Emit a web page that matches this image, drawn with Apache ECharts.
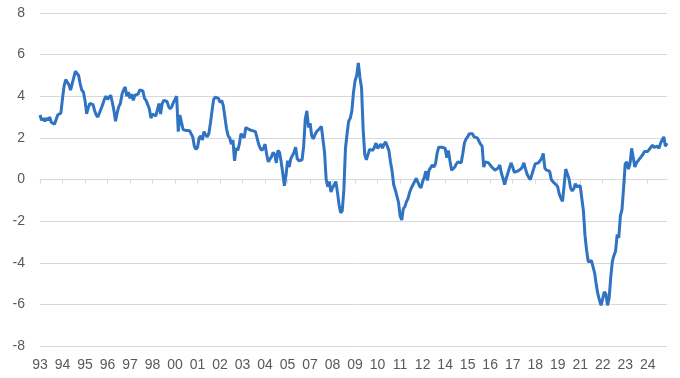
<!DOCTYPE html>
<html>
<head>
<meta charset="utf-8">
<script src="https://cdn.jsdelivr.net/npm/echarts@6/dist/echarts.min.js"></script>
<style>
html,body{margin:0;padding:0;background:#fff;}
#chart{width:680px;height:378px;}
</style>
</head>
<body>
<div id="chart"></div>
<script>
// Monthly values, Jan 1993 onwards (one array per year)
const y1993 = [3.1, 2.85, 2.95, 2.8, 2.95, 2.85, 3.0, 2.75, 2.7, 2.65, 2.65, 3.1];
const y1994 = [3.15, 3.2, 3.9, 4.5, 4.8, 4.85, 4.55, 4.3, 4.35, 4.9, 5.2, 5.2];
const y1995 = [5.0, 4.6, 4.3, 4.2, 3.8, 3.15, 3.45, 3.65, 3.7, 3.6, 3.3, 3.1];
const y1996 = [3.0, 2.95, 3.4, 3.6, 3.85, 4.0, 3.85, 3.9, 4.05, 3.7, 3.3, 2.8];
const y1997 = [3.2, 3.5, 3.65, 4.1, 4.3, 4.45, 4.0, 4.2, 3.9, 4.1, 3.8, 4.05];
const y1998 = [4.05, 4.1, 4.3, 4.3, 4.25, 3.9, 3.8, 3.75, 3.4, 2.95, 3.15, 3.1];
const y1999 = [3.05, 3.35, 3.65, 3.15, 3.65, 3.8, 3.8, 3.75, 3.5, 3.4, 3.5, 3.7];
const y2000 = [3.85, 4.0, 2.3, 3.1, 3.05, 2.4, 2.4, 2.35, 2.4, 2.35, 2.3, 2.05];
const y2001 = [1.6, 1.45, 1.55, 2.0, 2.1, 1.9, 2.3, 2.15, 2.05, 2.2, 2.7, 3.3];
const y2002 = [3.85, 3.95, 3.9, 3.9, 3.7, 3.8, 3.55, 3.0, 2.45, 2.1, 2.0, 1.7];
const y2003 = [1.9, 0.9, 1.5, 1.4, 1.7, 2.2, 2.1, 2.0, 2.5, 2.5, 2.4, 2.4];
const y2004 = [2.35, 2.3, 2.3, 2.25, 1.7, 1.5, 1.4, 1.5, 1.7, 1.2, 0.85, 0.9];
const y2005 = [1.1, 1.3, 1.2, 0.8, 1.4, 1.3, 0.85, 0.3, -0.3, 0.2, 0.9, 0.6];
const y2006 = [1.0, 1.0, 1.3, 1.55, 1.0, 0.9, 0.9, 0.95, 1.6, 2.9, 3.3, 2.5];
const y2007 = [2.7, 2.1, 1.95, 2.15, 2.3, 2.35, 2.45, 2.55, 2.5, 1.3, 0.0, -0.35];
const y2008 = [-0.1, -0.6, -0.4, -0.25, -0.1, -0.6, -1.2, -1.6, -1.5, -0.5, 1.5, 2.2];
const y2009 = [2.8, 2.95, 3.3, 4.2, 4.75, 5.0, 5.6, 4.9, 4.4, 2.4, 1.2, 0.95];
const y2010 = [1.0, 1.45, 1.5, 1.4, 1.55, 1.75, 1.5, 1.55, 1.7, 1.5, 1.7, 1.8];
const y2011 = [1.75, 1.4, 0.85, 0.4, -0.25, -0.5, -0.55, -1.1, -1.75, -1.95, -1.4, -1.3];
const y2012 = [-1.05, -0.9, -0.6, -0.4, -0.25, -0.1, 0.05, 0.1, -0.3, -0.4, -0.1, 0.1];
const y2013 = [0.4, -0.05, 0.45, 0.4, 0.7, 0.6, 0.75, 1.25, 1.55, 1.6, 1.55, 1.5];
const y2014 = [1.5, 1.05, 1.4, 0.9, 0.45, 0.5, 0.6, 0.75, 0.85, 0.8, 0.8, 1.25];
const y2015 = [1.75, 1.95, 2.05, 2.2, 2.2, 2.2, 2.05, 2.05, 2.0, 1.85, 1.7, 1.6];
const y2016 = [0.6, 0.85, 0.85, 0.8, 0.8, 0.6, 0.65, 0.45, 0.45, 0.55, 0.7, 0.3];
const y2017 = [0.05, -0.25, 0.05, 0.3, 0.55, 0.8, 0.6, 0.35, 0.3, 0.4, 0.35, 0.5];
const y2018 = [0.6, 0.8, 0.5, 0.25, 0.1, 0.0, 0.05, 0.5, 0.75, 0.8, 0.8, 0.9];
const y2019 = [1.0, 1.25, 0.55, 0.45, 0.4, 0.4, 0.0, -0.1, -0.1, -0.25, -0.35, -0.7];
const y2020 = [-0.9, -1.05, -0.3, 0.5, 0.55, 0.05, -0.4, -0.55, -0.45, -0.2, -0.35, -0.3];
const y2021 = [-0.3, -0.3, -1.5, -2.7, -3.4, -3.95, -4.0, -3.9, -3.95, -4.5, -5.05, -5.5];
const y2022 = [-5.8, -6.05, -6.0, -5.4, -5.5, -6.05, -5.7, -4.7, -3.95, -3.65, -3.45, -2.65];
const y2023 = [-2.8, -1.75, -1.45, -0.4, 0.75, 0.85, 0.5, 0.75, 1.5, 1.55, 0.6, 0.8];
const y2024 = [0.85, 1.0, 1.05, 1.2, 1.35, 1.4, 1.35, 1.3, 1.55, 1.65, 1.55, 1.6];
const y2025 = [1.6, 1.5, 1.75, 1.9, 2.05, 1.6, 1.75];

const startYear = 1993;
const yearly = [y1993,y1994,y1995,y1996,y1997,y1998,y1999,y2000,y2001,y2002,y2003,y2004,
  y2005,y2006,y2007,y2008,y2009,y2010,y2011,y2012,y2013,y2014,y2015,y2016,y2017,y2018,
  y2019,y2020,y2021,y2022,y2023,y2024,y2025];

const yTicks = [-8, -6, -4, -2, 0, 2, 4, 6, 8];

// categories: one per month
const categories = [];
const values = [];
yearly.forEach((arr, k) => {
  arr.forEach((v, m) => {
    categories.push(String(startYear + k).slice(2) + '-' + (m + 1));
    values.push(v);
  });
});

const chart = echarts.init(document.getElementById('chart'), null, {renderer: 'canvas'});
const grey = '#d9d9d9';
const labelColor = '#595959';
const font = 'Liberation Sans, Arial, Helvetica, sans-serif';
chart.setOption({
  animation: false,
  backgroundColor: '#ffffff',
  grid: {left: 40, right: 13, top: 13, bottom: 32, containLabel: false},
  xAxis: [{
    type: 'category',
    position: 'bottom',
    data: categories,
    boundaryGap: false,
    axisLine: {show: false, onZero: false},
    axisTick: {show: false},
    splitLine: {show: false},
    axisLabel: {
      interval: 13,
      margin: 12,
      color: labelColor,
      fontSize: 14,
      fontFamily: font,
      formatter: v => v.split('-')[0]
    }
  }, {
    type: 'category',
    position: 'bottom',
    data: categories,
    boundaryGap: false,
    axisLine: {show: true, onZero: true, lineStyle: {color: grey, width: 1}},
    axisTick: {show: true, interval: 13, length: 4, lineStyle: {color: grey}},
    axisLabel: {show: false},
    splitLine: {show: false}
  }],
  yAxis: {
    type: 'value',
    min: yTicks[0],
    max: yTicks[yTicks.length - 1],
    interval: 2,
    axisLine: {show: false},
    axisTick: {show: false},
    splitLine: {lineStyle: {color: grey, width: 1}},
    axisLabel: {color: labelColor, fontSize: 14, fontFamily: font, margin: 15}
  },
  series: [{
    type: 'line',
    xAxisIndex: 0,
    data: values,
    symbol: 'none',
    smooth: false,
    lineStyle: {color: '#2f73c2', width: 3},
    itemStyle: {color: '#2f73c2'}
  }]
});
</script>
</body>
</html>
